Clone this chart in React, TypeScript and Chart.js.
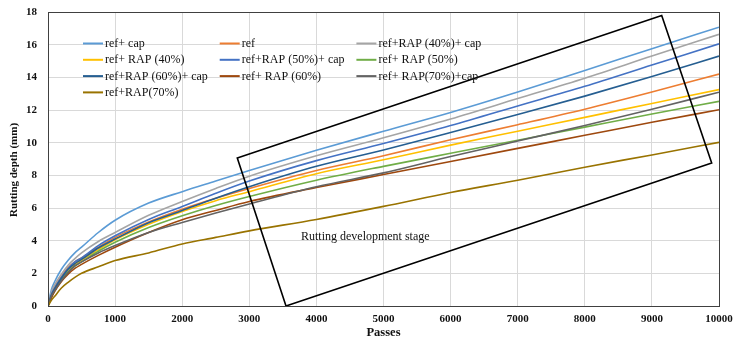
import React, { useEffect, useRef } from "react";
import { Chart, registerables } from "chart.js";

Chart.register(...registerables);

// ---- data ----
const passes = [0, 50, 100, 200, 300, 400, 500, 750, 1000, 1500, 2000, 2500, 3000, 4000, 5000, 6000, 7000, 8000, 9000, 10000];

const refCap = [0, 1.0, 1.5, 2.25, 2.8, 3.25, 3.6, 4.5, 5.25, 6.3, 7.0, 7.65, 8.3, 9.53, 10.7, 11.85, 13.1, 14.42, 15.75, 17.07];
const ref = [0, 0.7, 1.15, 1.8, 2.35, 2.7, 2.95, 3.6, 4.2, 5.15, 5.93, 6.6, 7.2, 8.3, 9.2, 10.18, 11.1, 12.05, 13.1, 14.2];
const rap40Cap = [0, 0.85, 1.3, 1.95, 2.5, 2.9, 3.25, 3.95, 4.5, 5.55, 6.4, 7.2, 7.95, 9.2, 10.3, 11.45, 12.7, 13.95, 15.3, 16.63];
const rap40 = [0, 0.6, 1.0, 1.65, 2.2, 2.55, 2.8, 3.45, 4.05, 5.0, 5.79, 6.45, 7.0, 8.1, 8.95, 9.85, 10.7, 11.55, 12.4, 13.25];
const rap50Cap = [0, 0.7, 1.1, 1.75, 2.3, 2.7, 2.95, 3.7, 4.3, 5.3, 6.09, 6.9, 7.65, 8.9, 9.95, 11.05, 12.25, 13.45, 14.75, 16.05];
const rap50 = [0, 0.55, 0.95, 1.6, 2.1, 2.45, 2.7, 3.35, 3.9, 4.8, 5.52, 6.15, 6.7, 7.7, 8.55, 9.35, 10.15, 10.95, 11.75, 12.53];
const rap60Cap = [0, 0.65, 1.05, 1.7, 2.25, 2.6, 2.85, 3.55, 4.1, 5.1, 5.85, 6.6, 7.3, 8.55, 9.55, 10.62, 11.72, 12.85, 14.05, 15.3];
const rap60 = [0, 0.5, 0.9, 1.5, 1.95, 2.3, 2.55, 3.1, 3.6, 4.5, 5.28, 5.85, 6.4, 7.25, 8.05, 8.85, 9.65, 10.45, 11.25, 12.02];
const rap70Cap = [0, 0.6, 0.95, 1.55, 2.05, 2.45, 2.7, 3.25, 3.7, 4.5, 5.11, 5.7, 6.25, 7.3, 8.15, 9.15, 10.1, 11.05, 12.05, 13.09];
const rap70 = [0, 0.35, 0.6, 1.1, 1.45, 1.75, 2.0, 2.4, 2.78, 3.25, 3.8, 4.2, 4.6, 5.3, 6.1, 6.95, 7.7, 8.5, 9.25, 10.02];

const seriesLabels = [
  "ref+ cap",
  "ref",
  "ref+RAP (40%)+ cap",
  "ref+ RAP (40%)",
  "ref+RAP (50%)+ cap",
  "ref+ RAP (50%)",
  "ref+RAP (60%)+ cap",
  "ref+ RAP (60%)",
  "ref+ RAP(70%)+cap",
  "ref+RAP(70%)",
];
const seriesValues = [refCap, ref, rap40Cap, rap40, rap50Cap, rap50, rap60Cap, rap60, rap70Cap, rap70];
const seriesColors = [
  "#5B9BD5",
  "#ED7D31",
  "#A5A5A5",
  "#FFC000",
  "#4472C4",
  "#70AD47",
  "#255E91",
  "#9E480E",
  "#636363",
  "#997300",
];

// annotation box corners (passes, mm) and its label
const boxCornersX = [2821, 9146, 9891, 3547];
const boxCornersY = [9.06, 17.79, 8.75, 0];
const boxLabel = "Rutting development stage";
const boxLabelX = 3770;
const boxLabelY = 4.25;

const xTitle = "Passes";
const yTitle = "Rutting depth (mm)";

const SERIF = "'Liberation Serif', 'Times New Roman', serif";

const overlayPlugin = {
  id: "overlay",
  afterDatasetsDraw(chart: any) {
    const { ctx, scales } = chart;
    const xs = scales.x;
    const ys = scales.y;
    ctx.save();
    ctx.beginPath();
    for (let i = 0; i < boxCornersX.length; i++) {
      const px = xs.getPixelForValue(boxCornersX[i]);
      const py = ys.getPixelForValue(boxCornersY[i]);
      if (i === 0) ctx.moveTo(px, py);
      else ctx.lineTo(px, py);
    }
    ctx.closePath();
    ctx.strokeStyle = "#000";
    ctx.lineWidth = 1.6;
    ctx.stroke();
    ctx.fillStyle = "#111";
    ctx.font = `12px ${SERIF}`;
    ctx.textAlign = "left";
    ctx.textBaseline = "middle";
    ctx.fillText(boxLabel, xs.getPixelForValue(boxLabelX), ys.getPixelForValue(boxLabelY));
    ctx.restore();
  },
  afterDraw(chart: any) {
    const { ctx, chartArea } = chart;
    ctx.save();
    ctx.strokeStyle = "#404040";
    ctx.lineWidth = 1;
    ctx.strokeRect(
      Math.round(chartArea.left) + 0.5,
      Math.round(chartArea.top) + 0.5,
      Math.round(chartArea.right - chartArea.left),
      Math.round(chartArea.bottom - chartArea.top)
    );
    ctx.font = `12px ${SERIF}`;
    ctx.textAlign = "left";
    ctx.textBaseline = "middle";
    chart.data.datasets.forEach((ds: any, i: number) => {
      const col = i % 3;
      const row = Math.floor(i / 3);
      const lx = chartArea.left + 35 + col * 136.7;
      const ly = chartArea.top + 31.5 + row * 16.3;
      ctx.strokeStyle = ds.borderColor;
      ctx.lineWidth = 2;
      ctx.beginPath();
      ctx.moveTo(lx, ly);
      ctx.lineTo(lx + 20, ly);
      ctx.stroke();
      ctx.fillStyle = "#111";
      ctx.fillText(ds.label, lx + 22, ly + 0.5);
    });
    ctx.fillStyle = "#111";
    ctx.font = `bold 12.5px ${SERIF}`;
    ctx.textAlign = "center";
    ctx.fillText(xTitle, (chartArea.left + chartArea.right) / 2, 333);
    ctx.translate(14, (chartArea.top + chartArea.bottom) / 2 + 11);
    ctx.rotate(-Math.PI / 2);
    ctx.font = `bold 11px ${SERIF}`;
    ctx.fillText(yTitle, 0, 0);
    ctx.restore();
  },
};

export default function App() {
  const canvasRef = useRef<HTMLCanvasElement | null>(null);

  useEffect(() => {
    const canvas = canvasRef.current;
    if (!canvas) return;
    const datasets = seriesLabels.map((label, i) => ({
      label,
      data: passes.map((p, j) => ({ x: p, y: seriesValues[i][j] })),
      borderColor: seriesColors[i],
      backgroundColor: seriesColors[i],
      borderWidth: 1.6,
      pointRadius: 0,
      cubicInterpolationMode: "monotone" as const,
      fill: false,
      order: 10 - i,
    }));
    const chart = new Chart(canvas, {
      type: "line",
      data: { datasets },
      options: {
        animation: false,
        responsive: false,
        devicePixelRatio: 1,
        layout: { padding: { top: 12, right: 15, left: 0, bottom: 0 } },
        plugins: {
          legend: { display: false },
          tooltip: { enabled: false },
        },
        scales: {
          x: {
            type: "linear",
            min: 0,
            max: 10000,
            afterFit: (s: any) => {
              s.height = 39;
              s.paddingLeft = 0;
              s.paddingRight = 0;
            },
            ticks: {
              stepSize: 1000,
              padding: 7,
              color: "#111",
              maxRotation: 0,
              callback: (v: any) => String(v),
              font: { family: SERIF, size: 11, weight: "bold" },
            },
            grid: { color: "#D9D9D9", drawTicks: false },
            border: { display: false },
          },
          y: {
            type: "linear",
            min: 0,
            max: 18,
            afterFit: (s: any) => {
              s.width = 48;
              s.paddingTop = 0;
              s.paddingBottom = 0;
            },
            ticks: {
              stepSize: 2,
              padding: 11,
              color: "#111",
              callback: (v: any) => String(v),
              font: { family: SERIF, size: 11, weight: "bold" },
            },
            grid: { color: "#D9D9D9", drawTicks: false },
            border: { display: false },
          },
        },
      },
      plugins: [overlayPlugin],
    });
    return () => chart.destroy();
  }, []);

  return (
    <div style={{ position: "absolute", left: 0, top: 0, width: 734, height: 345, background: "#fff" }}>
      <canvas ref={canvasRef} width={734} height={345} style={{ display: "block", width: 734, height: 345 }} />
    </div>
  );
}
